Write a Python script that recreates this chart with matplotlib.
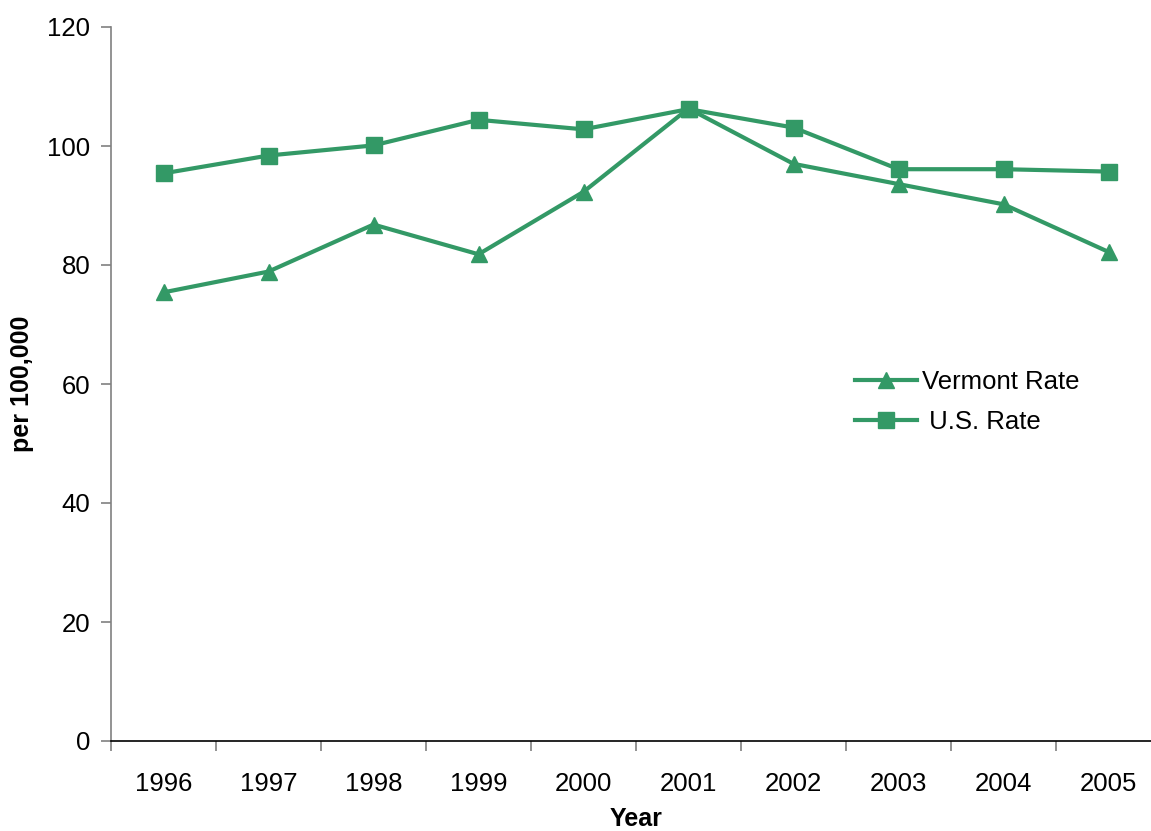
import matplotlib
matplotlib.use("Agg")
import matplotlib.pyplot as plt
import numpy as np

# values
years = ["1996", "1997", "1998", "1999", "2000", "2001", "2002", "2003", "2004", "2005"]
vermont_rate = [75.4, 78.9, 86.8, 81.8, 92.3, 106.3, 97.0, 93.6, 90.2, 82.2]
us_rate = [95.4, 98.4, 100.1, 104.4, 102.8, 106.2, 103.1, 96.1, 96.1, 95.7]

green = "#339966"
plt.rcParams['font.family'] = ['Liberation Sans', 'DejaVu Sans']

fig = plt.figure(figsize=(11.51, 8.31), dpi=100)
ax = fig.add_axes([111/1151, 90/831, 1050/1151, 714/831])

x = np.arange(len(years))
ax.plot(x, vermont_rate, "-", color=green, lw=3, marker="^", ms=12, label="Vermont Rate")
ax.plot(x, us_rate, "-", color=green, lw=3, marker="s", ms=11.5, label=" U.S. Rate")

ax.set_xlim(-0.5, len(years) - 0.5)
ax.set_ylim(0, 120)
ax.set_yticks(np.arange(0, 121, 20))
ax.set_xticks(x)
ax.set_xticklabels(years)
ax.set_xticks(np.arange(-0.5, len(years), 1), minor=True)
ax.tick_params(axis="x", which="major", length=0, pad=22, labelsize=18.5)
ax.tick_params(axis="x", which="minor", length=7, width=1.2, color="#808080")
ax.tick_params(axis="y", length=7, width=1.2, color="#808080", pad=8, labelsize=18.5)

for s in ("top", "right"):
    ax.spines[s].set_visible(False)
ax.spines["left"].set_color("#808080")
ax.spines["left"].set_linewidth(1.2)
ax.spines["bottom"].set_color("black")
ax.spines["bottom"].set_linewidth(1.2)

ax.set_xlabel("Year", fontsize=18, fontweight="bold", labelpad=8)
fig.text(22/1151, 1 - 384/831, "per 100,000", rotation=90, fontsize=18,
         fontweight="bold", ha="center", va="center")

ax.legend(loc="center left", bbox_to_anchor=(855/1151, 1 - 402/831),
          bbox_transform=fig.transFigure, frameon=False, fontsize=18.5,
          handlelength=2.4, handletextpad=0.2, labelspacing=0.65,
          borderpad=0, borderaxespad=0)

fig.savefig("out.png", dpi=100)
